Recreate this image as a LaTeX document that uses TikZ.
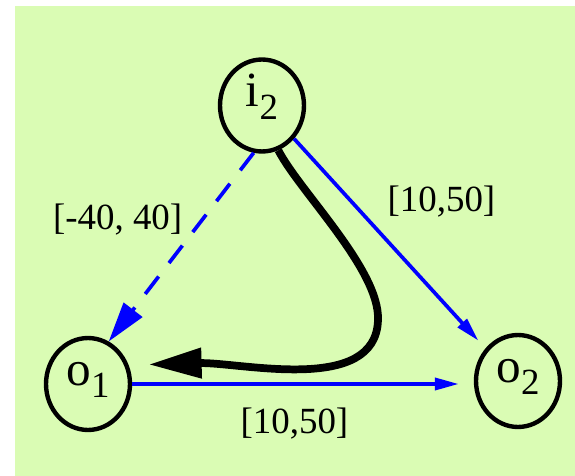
\documentclass[tikz,border=0pt]{standalone}
\usepackage{fontspec}
\setmainfont{Liberation Serif}
\usetikzlibrary{arrows.meta,shapes}
\definecolor{bggreen}{RGB}{218,252,180}
\tikzstyle{tnode}=[ellipse,draw=black,line width=2.5pt,minimum width=1.68cm,minimum height=1.84cm,inner sep=0pt,text height=0.44cm,text depth=0.40cm,font=\fontsize{28}{32}\selectfont]
\tikzstyle{tarc}=[draw=blue,line width=2.1pt,-{Triangle[length=0.48cm,width=0.24cm]}]
\tikzstyle{tdash}=[tarc,dash pattern=on 0.44cm off 0.34cm,-{Triangle[length=0.8cm,width=0.46cm]}]
\tikzstyle{tflow}=[draw=black,line width=4.4pt,-{Triangle[length=1.06cm,width=0.58cm]}]
\tikzstyle{tlabel}=[inner sep=0pt,font=\fontsize{21}{25}\selectfont]
\newcommand{\nlab}[2]{#1\raisebox{-0.26cm}{\fontsize{21}{25}\selectfont #2}}

\begin{document}
\begin{tikzpicture}[x=0.02cm,y=-0.02cm]
\fill[bggreen] (15,6) rectangle (575,476);
\useasboundingbox (0,0) rectangle (575,476);
\node[tnode] (i2) at (262,105.5) {\nlab{i}{2}};
\node[tnode] (o1) at (88,384) {\nlab{o}{1}};
\node[tnode] (o2) at (518,381) {\nlab{o}{2}};
\draw[tdash](i2.260)--node[tlabel,pos=0.356,left=0.36cm]{[-40, 40]}(o1.64);
\draw[tarc,shorten >=0.21cm](i2.314)--node[tlabel,pos=0.302,right=0.68cm]{[10,50]}(o2.135);
\draw[tarc,shorten >=0.3cm](o1.east)--node[tlabel,pos=0.475,below=0.44cm]{[10,50]}(o1.east -| o2.west);
\draw[tflow,shorten >=0.4cm](i2.290) .. controls (300,192) and (380,270) .. (378,320) .. controls (376,395) and (240,362) .. (o1.25);
\end{tikzpicture}
\end{document}
